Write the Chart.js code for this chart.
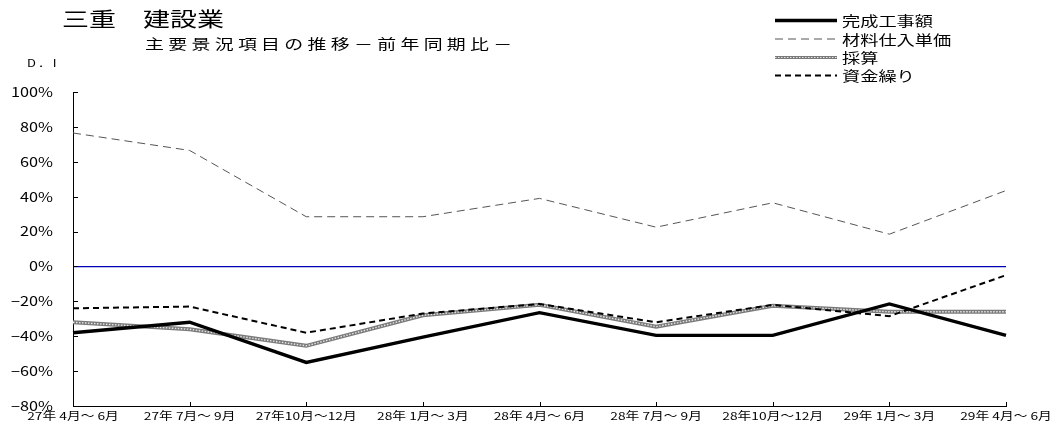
<!DOCTYPE html>
<html lang="ja">
<head>
<meta charset="utf-8">
<title>三重 建設業 主要景況項目の推移</title>
<script src="https://cdn.jsdelivr.net/npm/chart.js@4/dist/chart.umd.min.js"></script>
<style>
  html, body { margin: 0; padding: 0; background: #fff; }
  #wrap { position: relative; width: 1057px; height: 428px; }
</style>
</head>
<body>
<div id="wrap"><canvas id="c" width="1057" height="428"></canvas></div>
<script>
// 四半期ラベル
const periods = [
  '27年 4月～ 6月', '27年 7月～ 9月', '27年10月～12月',
  '28年 1月～ 3月', '28年 4月～ 6月', '28年 7月～ 9月',
  '28年10月～12月', '29年 1月～ 3月', '29年 4月～ 6月'
];

// D.I（%）
const kanseiKojigaku = [-38, -32, -55, -40.5, -26.5, -39.5, -39.5, -21.5, -39.5];
const zairyoTanka    = [76.5, 66.5, 28.5, 28.5, 39, 22.5, 36.5, 18.5, 43.5];
const saisan         = [-32, -36, -45.5, -28, -22, -34.5, -22.5, -26, -26];
const shikinGuri     = [-24, -23, -38, -27, -21.5, -32, -22, -28.5, -5];

// 目盛
const yTicks = [-80, -60, -40, -20, 0, 20, 40, 60, 80, 100];

const JP = '"Noto Sans CJK JP", "Noto Sans", sans-serif';

// 横長の字形で文字を描く
function wideText(ctx, text, x, y, opts) {
  const sx = opts.sx || 1.3;
  ctx.save();
  ctx.font = opts.font;
  ctx.letterSpacing = (opts.spacing || 0) + 'px';
  ctx.textBaseline = 'middle';
  ctx.textAlign = 'left';
  ctx.fillStyle = '#000';
  const w = ctx.measureText(text).width * sx;
  let left = x;
  if (opts.align === 'center') left = x - w / 2;
  else if (opts.align === 'right') left = x - w;
  ctx.translate(left, y);
  ctx.scale(sx, 1);
  ctx.fillText(text, 0, 0);
  ctx.restore();
}

// 見出し・目盛・凡例を描くプラグイン
const decor = {
  id: 'decor',
  afterDraw(chart) {
    const ctx = chart.ctx;
    const { x, y } = chart.scales;
    const area = chart.chartArea;

    // 見出し
    wideText(ctx, '三重　建設業', 62, 19, { font: '20px ' + JP, sx: 1.35 });
    wideText(ctx, '主要景況項目の推移－前年同期比－', 145, 44,
      { font: '14px ' + JP, sx: 1.35, spacing: 3.2 });
    wideText(ctx, 'D．I', 27, 63, { font: '10px ' + JP, sx: 1.3, spacing: 1.5 });

    // 縦軸ラベル（右揃え）
    yTicks.forEach(v => {
      const t = (v < 0 ? '−' + Math.abs(v) : v) + '%';
      wideText(ctx, t, 53, y.getPixelForValue(v),
        { font: '13px ' + JP, sx: 1.25, align: 'right' });
    });

    // 横軸ラベル
    periods.forEach((p, i) => {
      wideText(ctx, p, x.getPixelForValue(i), area.bottom + 9.5,
        { font: '11px ' + JP, sx: 1.25, align: 'center' });
    });

    ctx.save();
    // 内向きの目盛線
    ctx.strokeStyle = '#000';
    ctx.lineWidth = 1;
    ctx.beginPath();
    yTicks.forEach(v => {
      const py = Math.round(y.getPixelForValue(v)) + 0.5;
      ctx.moveTo(area.left, py);
      ctx.lineTo(area.left + 5, py);
    });
    periods.forEach((p, i) => {
      const px = Math.round(x.getPixelForValue(i)) + 0.5;
      ctx.moveTo(px, area.bottom);
      ctx.lineTo(px, area.bottom - 4);
    });
    ctx.stroke();

    // 凡例
    const entries = chart.data.datasets.filter(d => d.legendRow !== undefined);
    entries.forEach(d => {
      const ly = [20.5, 39, 57.5, 75.5][d.legendRow];
      const x0 = 775, x1 = 837;
      const drawLine = (color, width, dash) => {
        ctx.beginPath();
        ctx.strokeStyle = color;
        ctx.lineWidth = width;
        ctx.setLineDash(dash || []);
        ctx.moveTo(x0, ly);
        ctx.lineTo(x1, ly);
        ctx.stroke();
      };
      if (d.overlay) {
        drawLine(d.borderColor, 3, d.borderDash);
        const o = chart.data.datasets[d.overlay];
        drawLine(o.borderColor, 1, o.borderDash);
      } else {
        drawLine(d.borderColor, d.borderWidth, d.borderDash);
      }
      ctx.setLineDash([]);
      wideText(ctx, d.label, 842, ly + 0.5, { font: '14px ' + JP, sx: 1.3 });
    });
    ctx.restore();
  }
};

new Chart(document.getElementById('c'), {
  type: 'line',
  data: {
    labels: periods,
    datasets: [
      {
        label: '完成工事額', data: kanseiKojigaku, legendRow: 0,
        borderColor: '#000', borderWidth: 3.4, order: 1
      },
      {
        label: '材料仕入単価', data: zairyoTanka, legendRow: 1,
        borderColor: '#555', borderWidth: 1, borderDash: [8, 5], order: 5
      },
      {
        label: '採算', data: saisan, legendRow: 2, overlay: 3,
        borderColor: '#7a7a7a', borderWidth: 4, order: 4
      },
      {
        label: '採算（中線）', data: saisan,
        borderColor: '#e6e6e6', borderWidth: 1.4, borderDash: [1.5, 1.5], order: 3
      },
      {
        label: '資金繰り', data: shikinGuri, legendRow: 3,
        borderColor: '#000', borderWidth: 2, borderDash: [6, 4], order: 2
      }
    ]
  },
  options: {
    responsive: false,
    animation: false,
    events: [],
    elements: {
      point: { radius: 0 },
      line: { tension: 0, fill: false, borderCapStyle: 'butt', borderJoinStyle: 'miter' }
    },
    layout: { padding: { left: 0, right: 51, top: 92, bottom: 0 } },
    plugins: {
      legend: { display: false },
      tooltip: { enabled: false },
      title: { display: false }
    },
    scales: {
      x: {
        offset: false,
        grid: { display: false, drawTicks: false },
        border: { display: true, color: '#000', width: 1 },
        ticks: { display: false },
        afterFit(s) { s.height = 22; }
      },
      y: {
        min: -80, max: 100,
        grid: {
          drawTicks: false,
          color: ctx => (ctx.tick && ctx.tick.value === 0) ? '#0000b4' : 'rgba(0,0,0,0)',
          lineWidth: 1.3
        },
        border: { display: true, color: '#000', width: 1 },
        ticks: { display: false, stepSize: 20 },
        afterFit(s) { s.width = 73; }
      }
    }
  },
  plugins: [decor]
});
</script>
</body>
</html>
